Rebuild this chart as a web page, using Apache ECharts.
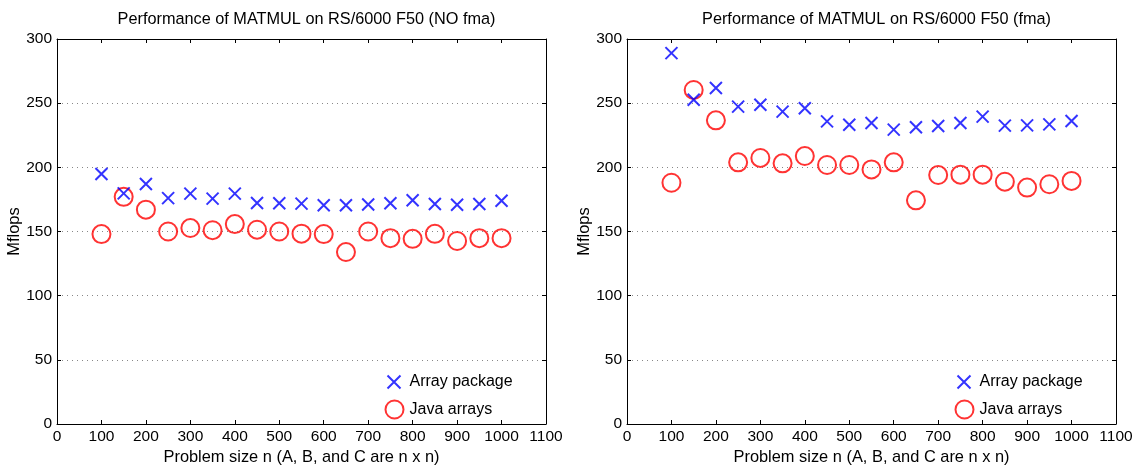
<!DOCTYPE html>
<html>
<head>
<meta charset="utf-8">
<script src="https://cdn.jsdelivr.net/npm/echarts@6/dist/echarts.min.js"></script>
<style>
html, body { margin: 0; padding: 0; background: #fff; }
#main { width: 1139px; height: 465px; }
</style>
</head>
<body>
<div id="main"></div>
<script>
var sizes = [100, 150, 200, 250, 300, 350, 400, 450, 500, 550, 600, 650, 700, 750, 800, 850, 900, 950, 1000];

// NO fma
var pkgNoFma = [194.8, 179.7, 187, 176, 179.5, 175.6, 179.5, 172.2, 172, 171.7, 170.4, 170.4, 171, 172, 174.3, 171.4, 170.9, 171.4, 173.9];
var javaNoFma = [148, 177, 167, 150, 152.7, 151, 155.8, 151.4, 150, 148.3, 148, 134, 150, 144.8, 144.3, 148.2, 142.6, 144.8, 144.8];

// fma
var pkgFma = [289, 252.7, 261.8, 247.3, 248.8, 243.4, 246, 235.8, 233.2, 234.5, 229.4, 231.2, 232.2, 234.5, 239.5, 232.5, 232.7, 233.5, 236.1];
var javaFma = [188, 260.3, 236.6, 203.9, 207.3, 203.1, 208.8, 201.8, 201.8, 198.4, 203.9, 174.3, 194, 194.3, 194.3, 188.8, 184.2, 186.8, 189.4];

var titles = ['Performance of MATMUL on RS/6000 F50 (NO fma)', 'Performance of MATMUL on RS/6000 F50 (fma)'];

function pairs(ys) {
	return sizes.map(function (x, i) { return [x, ys[i]]; });
}

var font = 'Liberation Sans, Arial, sans-serif';
var lefts = [57, 627];
var plotW = 489;

var grids = [], xAxes = [], yAxes = [], series = [], titleList = [], legends = [];
var sets = [[pkgNoFma, javaNoFma], [pkgFma, javaFma]];

var tick = { show: true, inside: true, length: 4, lineStyle: { color: '#000' } };
var line = { show: true, onZero: false, lineStyle: { color: '#000', width: 1 } };

for (var g = 0; g < 2; g++) {
	grids.push({ left: lefts[g], top: 39, width: plotW, height: 385, show: false, outerBoundsMode: 'none', containLabel: false });
	titleList.push({
		text: titles[g],
		left: lefts[g] + plotW / 2,
		textAlign: 'center',
		top: 7,
		textStyle: { fontFamily: font, fontSize: 16.3, fontWeight: 'normal', color: '#000' }
	});
	// bottom x axis
	xAxes.push({
		type: 'value', gridIndex: g, min: 0, max: 1100, interval: 100, position: 'bottom',
		name: 'Problem size n (A, B, and C are n x n)', nameLocation: 'middle', nameGap: 21,
		nameTextStyle: { fontFamily: font, fontSize: 16.4, color: '#000' },
		axisLine: line,
		axisTick: tick,
		axisLabel: { fontFamily: font, fontSize: 15.5, color: '#000', margin: 5, formatter: function (v) { return String(v); } },
		splitLine: { show: false }
	});
	// top mirror
	xAxes.push({
		type: 'value', gridIndex: g, min: 0, max: 1100, interval: 100, position: 'top',
		axisLine: line,
		axisTick: tick,
		axisLabel: { show: false },
		splitLine: { show: false }
	});
	yAxes.push({
		type: 'value', gridIndex: g, min: 0, max: 300, interval: 50, position: 'left',
		name: 'Mflops', nameLocation: 'middle', nameGap: 34,
		nameTextStyle: { fontFamily: font, fontSize: 16.4, color: '#000' },
		axisLine: line,
		axisTick: tick,
		axisLabel: { fontFamily: font, fontSize: 15.5, color: '#000', margin: 5 },
		splitLine: {
			show: true,
			lineStyle: { color: '#888', type: [1, 4], width: 1 }
		}
	});
	yAxes.push({
		type: 'value', gridIndex: g, min: 0, max: 300, interval: 50, position: 'right',
		axisLine: line,
		axisTick: tick,
		axisLabel: { show: false },
		splitLine: { show: false }
	});

	series.push({
		name: 'Array package',
		type: 'scatter',
		xAxisIndex: g * 2, yAxisIndex: g * 2,
		symbol: 'path://M0,0L10,10M10,0L0,10',
		symbolSize: 12,
		itemStyle: { color: 'none', borderColor: '#0000ff', borderWidth: 2 },
		data: pairs(sets[g][0]),
		z: 3
	});
	series.push({
		name: 'Java arrays',
		type: 'scatter',
		xAxisIndex: g * 2, yAxisIndex: g * 2,
		symbol: 'circle',
		symbolSize: 18,
		itemStyle: { color: 'none', borderColor: '#ff0000', borderWidth: 2 },
		data: pairs(sets[g][1]),
		z: 2
	});
	legends.push({
		left: lefts[g] + 328,
		top: 373,
		padding: 0,
		itemWidth: 13,
		itemHeight: 13,
		textStyle: { fontFamily: font, fontSize: 16, color: '#000', padding: [0, 0, 0, 4] },
		data: ['Array package']
	});
	legends.push({
		left: lefts[g] + 326,
		top: 398,
		padding: 0,
		itemWidth: 18,
		itemHeight: 18,
		textStyle: { fontFamily: font, fontSize: 16, color: '#000', padding: [0, 0, 0, 1] },
		data: ['Java arrays']
	});
}

var option = {
	backgroundColor: '#fff',
	animation: false,
	title: titleList,
	grid: grids,
	xAxis: xAxes,
	yAxis: yAxes,
	legend: legends,
	series: series
};

var myChart = echarts.init(document.getElementById('main'));
myChart.setOption(option);
</script>
</body>
</html>
